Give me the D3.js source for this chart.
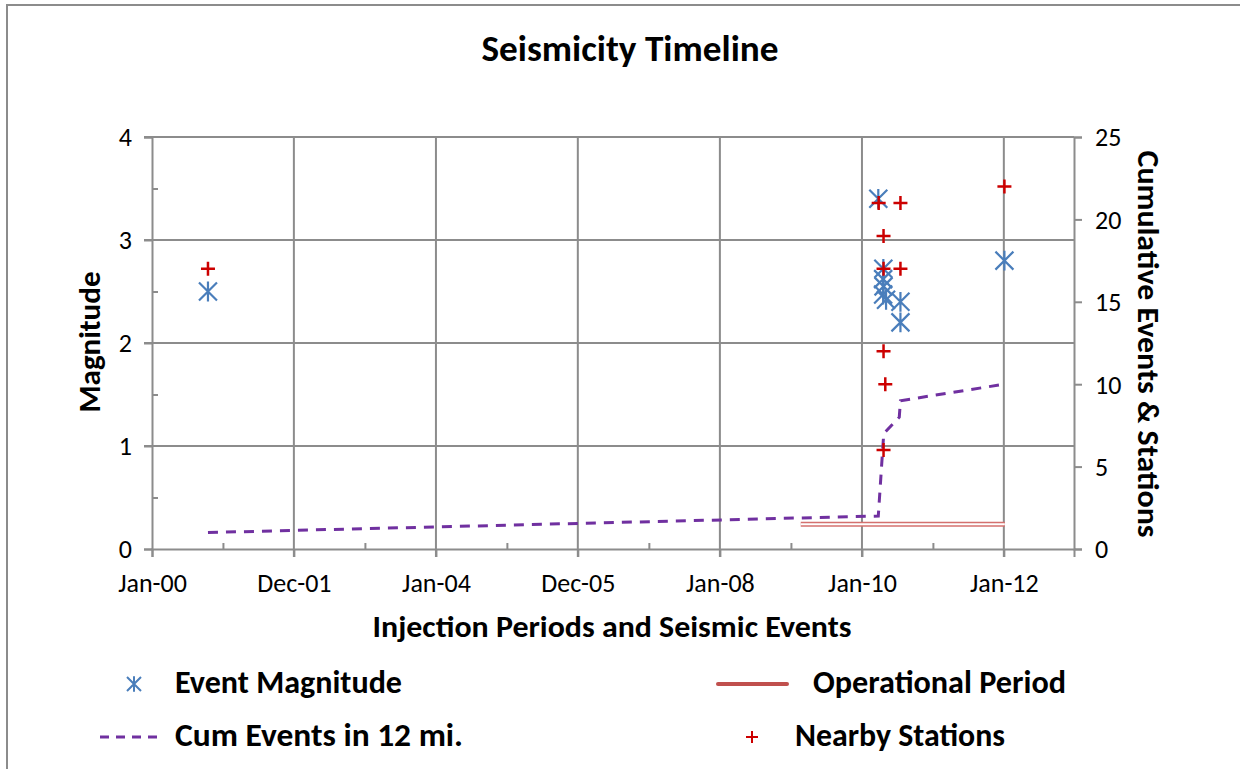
<!DOCTYPE html>
<html>
<head>
<meta charset="utf-8">
<script src="https://cdn.jsdelivr.net/npm/d3@7"></script>
<style>
  body { margin: 0; background: #fff; }
  svg { display: block; font-family: Carlito, Calibri, Lato, sans-serif; }
</style>
</head>
<body>
<div id="chart"></div>
<script>
// --- data ---
const eventDates = ["2000-10-15", "2010-03-26", "2010-04-21", "2010-04-20", "2010-04-22",
  "2010-04-20", "2010-05-05", "2010-07-18", "2010-07-18", "2012-01-04"];
const eventMagnitudes = [2.5, 3.4, 2.72, 2.62, 2.55, 2.47, 2.42, 2.4, 2.2, 2.8];

const cumDates = ["2000-10-15", "2010-03-26", "2010-04-23", "2010-07-12", "2010-07-18", "2012-01-04"];
const cumEvents = [1, 2, 7, 8, 9, 10];

const stationDates = ["2000-10-15", "2010-03-28", "2010-07-18", "2010-04-22", "2010-04-22",
  "2010-07-18", "2010-04-22", "2010-05-01", "2010-04-22", "2012-01-04"];
const stationCounts = [17, 21, 21, 19, 17, 17, 12, 10, 6, 22];

const operationalDates = ["2009-02-20", "2012-01-06"];
const operationalLevel = [1.5, 1.5];

const xTickDates = ["2000-01-01", "2001-12-31", "2004-01-01", "2005-12-31", "2008-01-01", "2010-01-01", "2012-01-01"];
const xTickLabels = ["Jan-00", "Dec-01", "Jan-04", "Dec-05", "Jan-08", "Jan-10", "Jan-12"];
const magTicks = [0, 1, 2, 3, 4];
const cumTicks = [0, 5, 10, 15, 20, 25];

const W = 1250, H = 769;
const plot = { left: 152, right: 1074, top: 137, bottom: 549 };
const gridColor = "#8c8c8c";
const blue = "#4a7ebb", red = "#cc0000", purple = "#7030a0", opRed = "#c0504d";

const parse = d3.timeParse("%Y-%m-%d");

const x = d3.scaleTime()
  .domain([parse("2000-01-01"), parse("2012-12-27")])
  .range([plot.left, plot.right]);
const yMag = d3.scaleLinear().domain([0, 4]).range([plot.bottom, plot.top]);
const yCum = d3.scaleLinear().domain([0, 25]).range([plot.bottom, plot.top]);

const svg = d3.select("#chart").append("svg")
  .attr("width", W)
  .attr("height", H);

// chart area border (only top and left visible in the crop)
svg.append("path")
  .attr("d", "M7," + H + " V5 H1240")
  .attr("fill", "none")
  .attr("stroke", gridColor)
  .attr("stroke-width", 2);

// gridlines
const grid = svg.append("g").attr("stroke", gridColor).attr("stroke-width", 2);
xTickDates.slice(1).forEach(d => {
  const px = x(parse(d));
  grid.append("line").attr("x1", px).attr("x2", px)
    .attr("y1", plot.top).attr("y2", plot.bottom + 8);
});
magTicks.slice(1).forEach(v => {
  grid.append("line").attr("x1", plot.left - 8).attr("x2", plot.right)
    .attr("y1", yMag(v)).attr("y2", yMag(v));
});

// left axis with outside major ticks and inside minor ticks
const leftAxis = svg.append("g").attr("transform", `translate(${plot.left},0)`)
  .call(d3.axisLeft(yMag).tickValues(magTicks).tickSize(8).tickFormat(d3.format("d")));
svg.append("g").attr("transform", `translate(${plot.left},0)`)
  .call(d3.axisRight(yMag).tickValues([0.5, 1.5, 2.5, 3.5]).tickSize(6).tickFormat(""))
  .call(g => g.select(".domain").remove());

// right axis
const rightAxis = svg.append("g").attr("transform", `translate(${plot.right},0)`)
  .call(d3.axisRight(yCum).tickValues(cumTicks).tickSize(8));

// bottom axis: major ticks down, minor ticks up
const tickDates = xTickDates.map(parse);
const bottomAxis = svg.append("g").attr("transform", `translate(0,${plot.bottom})`)
  .call(d3.axisBottom(x).tickValues(tickDates).tickSize(8)
    .tickFormat((d, i) => xTickLabels[i]));
const minorDates = tickDates.slice(1).map((d, i) => new Date((d.getTime() + tickDates[i].getTime()) / 2));
svg.append("g").attr("transform", `translate(0,${plot.bottom})`)
  .call(d3.axisTop(x).tickValues(minorDates).tickSize(6).tickFormat(""))
  .call(g => g.select(".domain").remove());

svg.selectAll(".domain").attr("stroke", gridColor).attr("stroke-width", 2);
svg.selectAll(".tick line").attr("stroke", gridColor).attr("stroke-width", 2);
svg.selectAll(".tick text").attr("fill", "#000").attr("font-size", 26)
  .attr("font-family", "Carlito, Calibri, Lato, sans-serif");
leftAxis.selectAll(".tick text").attr("x", -20).attr("dy", "0.34em");
rightAxis.selectAll(".tick text").attr("x", 21).attr("dy", "0.34em");
bottomAxis.selectAll(".tick text").attr("y", 0).attr("dy", 43);

// operational period: double line
const opLine = d3.line()
  .x((d, i) => x(parse(operationalDates[i])))
  .y(d => yCum(d));
svg.append("path").attr("d", opLine(operationalLevel))
  .attr("fill", "none").attr("stroke", "#d4706e").attr("stroke-width", 5);
svg.append("path").attr("d", opLine(operationalLevel))
  .attr("fill", "none").attr("stroke", "#fff").attr("stroke-width", 2);

// cumulative events line
const cumLine = d3.line()
  .x((d, i) => x(parse(cumDates[i])))
  .y(d => yCum(d));
svg.append("path").attr("d", cumLine(cumEvents))
  .attr("fill", "none")
  .attr("stroke", purple)
  .attr("stroke-width", 3)
  .attr("stroke-dasharray", "10,8");

// marker shapes
function starPath(r) {
  return `M${-r},${-r}L${r},${r}M${-r},${r}L${r},${-r}M0,${-r * 1.1}L0,${r * 1.1}`;
}
function plusPath(r) {
  return `M${-r},0H${r}M0,${-r}V${r}`;
}

svg.append("g").selectAll("path")
  .data(eventMagnitudes)
  .join("path")
  .attr("transform", (d, i) => `translate(${x(parse(eventDates[i]))},${yMag(d)})`)
  .attr("d", starPath(9))
  .attr("fill", "none")
  .attr("stroke", blue)
  .attr("stroke-width", 2.2);

svg.append("g").selectAll("path")
  .data(stationCounts)
  .join("path")
  .attr("transform", (d, i) => `translate(${x(parse(stationDates[i]))},${yCum(d)})`)
  .attr("d", plusPath(7))
  .attr("fill", "none")
  .attr("stroke", red)
  .attr("stroke-width", 2.5);

// titles
svg.append("text")
  .attr("x", 630).attr("y", 61)
  .attr("text-anchor", "middle")
  .attr("font-size", 36).attr("font-weight", "bold")
  .attr("textLength", 297).attr("lengthAdjust", "spacingAndGlyphs")
  .text("Seismicity Timeline");

svg.append("text")
  .attr("x", 612).attr("y", 637)
  .attr("text-anchor", "middle")
  .attr("font-size", 31).attr("font-weight", "bold")
  .attr("textLength", 479).attr("lengthAdjust", "spacingAndGlyphs")
  .text("Injection Periods and Seismic Events");

svg.append("text")
  .attr("transform", "translate(100,342) rotate(-90)")
  .attr("text-anchor", "middle")
  .attr("font-size", 31).attr("font-weight", "bold")
  .attr("textLength", 141).attr("lengthAdjust", "spacingAndGlyphs")
  .text("Magnitude");

svg.append("text")
  .attr("transform", "translate(1138,344) rotate(90)")
  .attr("text-anchor", "middle")
  .attr("font-size", 31).attr("font-weight", "bold")
  .attr("textLength", 387).attr("lengthAdjust", "spacingAndGlyphs")
  .text("Cumulative Events & Stations");

// legend
const legend = svg.append("g").attr("font-size", 32).attr("font-weight", "bold");
legend.append("path").attr("transform", "translate(134,684)")
  .attr("d", starPath(7)).attr("fill", "none").attr("stroke", blue).attr("stroke-width", 2);
legend.append("text").attr("x", 175).attr("y", 693)
  .attr("textLength", 227).attr("lengthAdjust", "spacingAndGlyphs")
  .text("Event Magnitude");

legend.append("line").attr("x1", 100).attr("x2", 164).attr("y1", 737).attr("y2", 737)
  .attr("stroke", purple).attr("stroke-width", 3).attr("stroke-dasharray", "9,7");
legend.append("text").attr("x", 175).attr("y", 746)
  .attr("textLength", 288).attr("lengthAdjust", "spacingAndGlyphs")
  .text("Cum Events in 12 mi.");

legend.append("line").attr("x1", 718).attr("x2", 787).attr("y1", 684).attr("y2", 684)
  .attr("stroke", opRed).attr("stroke-width", 4).attr("stroke-linecap", "round");
legend.append("text").attr("x", 813).attr("y", 693)
  .attr("textLength", 253).attr("lengthAdjust", "spacingAndGlyphs")
  .text("Operational Period");

legend.append("path").attr("transform", "translate(752,737)")
  .attr("d", plusPath(6)).attr("fill", "none").attr("stroke", red).attr("stroke-width", 2);
legend.append("text").attr("x", 795).attr("y", 746)
  .attr("textLength", 210).attr("lengthAdjust", "spacingAndGlyphs")
  .text("Nearby Stations");
</script>
</body>
</html>
